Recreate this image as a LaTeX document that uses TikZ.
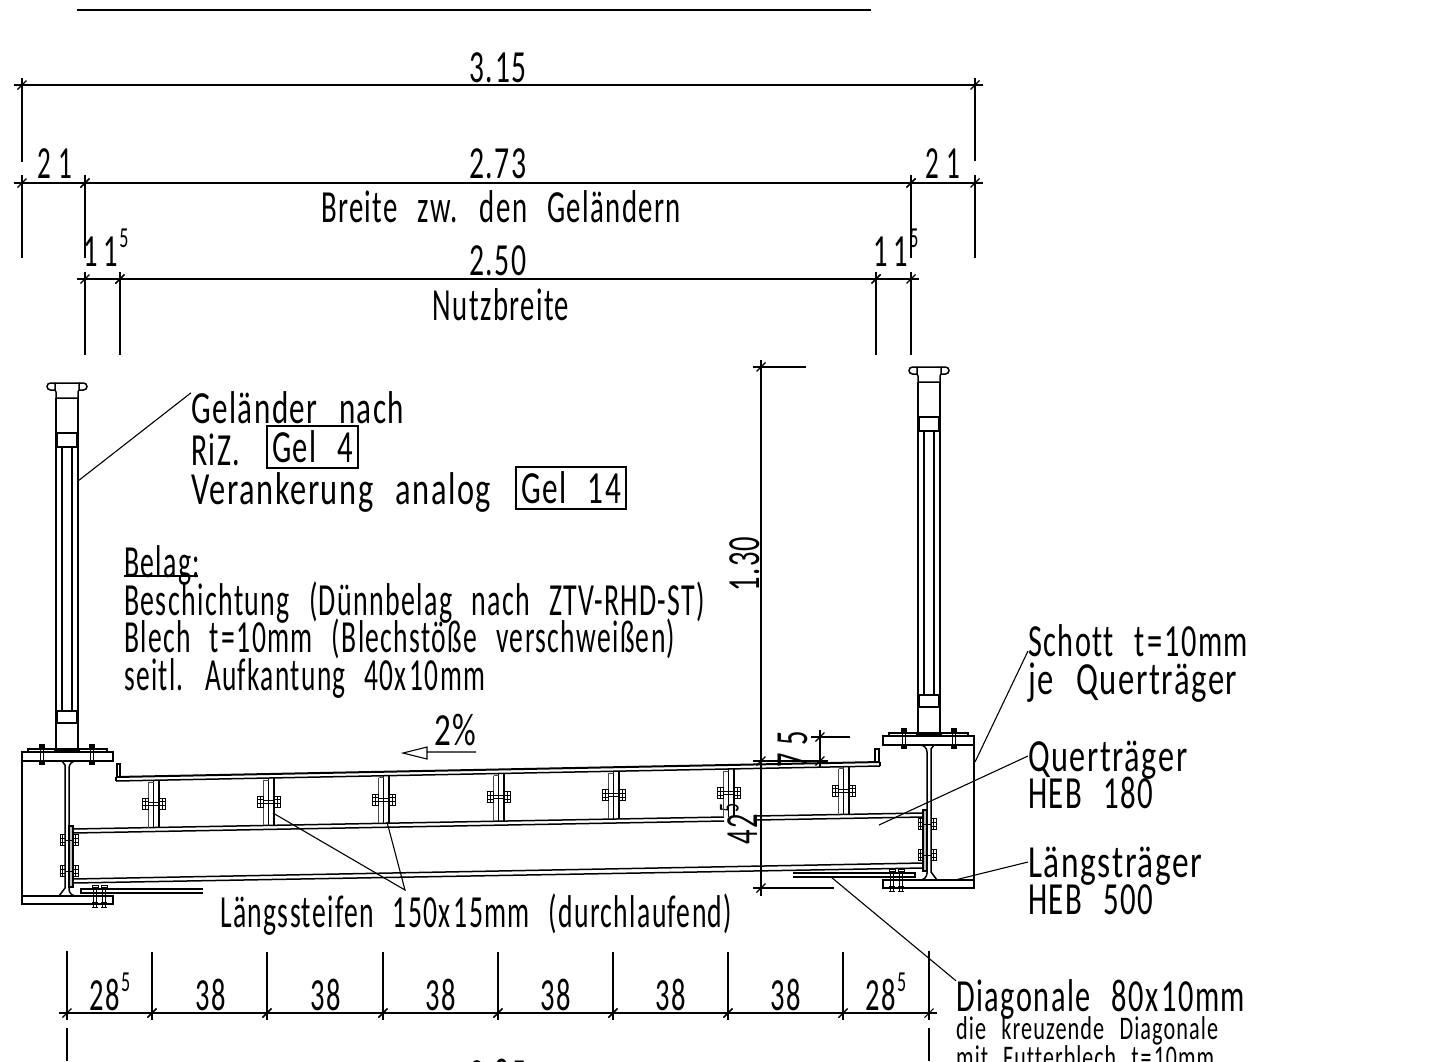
\documentclass[tikz,border=0pt]{standalone}
\usepackage{graphicx}
\usepackage{fontspec}
\setmainfont{Carlito}[FakeStretch=0.62,LetterSpace=3,WordSpace=2.5,Ligatures=NoCommon]
\usetikzlibrary{positioning}
\usetikzlibrary{calc}
\newcommand{\hoch}[1]{\raisebox{.4em}{\fontsize{29}{29}\selectfont\kern1pt #1}}
\newcommand{\bw}[2]{\resizebox{#1pt}{\height}{#2}}
\tikzset{
  dimline/.style={line width=1.1pt},
  leader/.style={line width=1.1pt},
  steel/.style={line width=1.5pt},
  thinsteel/.style={line width=1pt,black!70},
  txt/.style={inner sep=0pt,text height=30pt,text depth=0pt,font=\fontsize{46}{46}\selectfont},
  small txt/.style={inner sep=0pt,text height=21pt,text depth=0pt,font=\fontsize{33}{33}\selectfont},
  gel box/.style={txt,draw,line width=1.4pt,minimum height=42pt},
  pics/tick/.style={code={\draw[dimline] (-4.5,4.5) -- (4.5,-4.5);}},
  pics/nut/.style={code={
    \draw[line width=.8pt] (-3,-5.5) rectangle (3,5.5) (-3,-2) -- (3,-2) (-3,2) -- (3,2) (0,-5.5) -- (0,5.5);}},
  pics/hauptbolt/.style={code={
    \fill (-3,-5) rectangle (3,-1);
    \draw[line width=.9pt] (-1.5,-1) -- (-1.5,12) (1.5,-1) -- (1.5,12);
    \fill (-3,12) rectangle (3,16);}},
  pics/diagbolt/.style={code={
    \draw[line width=.9pt] (-3,-2) rectangle (3,0);
    \draw[line width=.9pt] (-1.5,0) -- (-1.5,20) (1.5,0) -- (1.5,20) (-3,20) -- (3,20);
    \draw[line width=.9pt] (-3,15) -- (3,15);}},
  pics/haupt/.style={code={
    % Pfosten
    \draw[steel] (-11,398) -- (-11,749) (11,398) -- (11,749);
    \draw[steel] (-12,383) -- (12,383) -- (12,390) -- (11,392) -- (11,398) -- (-11,398) -- (-11,392) -- (-12,390) -- cycle;
    \draw[steel,rounded corners=3.5pt] (-12,383) -- (-20,383) -- (-20,390) -- (-12,390);
    \draw[steel,rounded corners=3.5pt] (12,383) -- (20,383) -- (20,390) -- (12,390);
    \draw[line width=2.2pt] (-10,433) rectangle (10,447);
    \draw[line width=2.2pt] (-10,711) rectangle (10,723);
    \draw[line width=1.2pt] (-5,447) -- (-5,711) (5,447) -- (5,711);
    % Fussplatte und Flansche
    \draw[steel] (-39,749) rectangle (40,752);
    \draw[line width=2pt] (-13,751) -- (13,751);
    \draw[steel] (-45,752) rectangle (46,761);
    \draw[steel] (-45,896) rectangle (46,904);
    \draw[steel] (-45,761) -- (-45,896);
    \draw[steel] (-10,761) -- (-5,761) -- (-2,765) -- (-2,888) -- (-8,896) -- (-10,896);
    \draw[steel,rounded corners=7pt] (10,761) -- (2,761) -- (2,896) -- (10,896);
    \pic at (-25,749) {hauptbolt};
    \pic at (25,749) {hauptbolt};
    % Anschlussblech
    \draw[steel,fill=black!25] (2,826) rectangle (6,887);
    \foreach \yy in {840,871}{
      \pic[xscale=.8] at (-4.5,\yy) {nut};
      \pic[xscale=.8] at (8.5,\yy) {nut};
      \draw[line width=.8pt] (-2,\yy) -- (6,\yy);
    }
    % Diagonale
    \draw[steel] (14,894) -- (14,889) -- (136,889) (14,893) -- (136,893);
    \foreach \xx in {28,37}{\pic at (\xx,887) {diagbolt};}
  }}
}
\begin{document}
\begin{tikzpicture}[x=1pt,y=-1pt]
    \useasboundingbox (0,0) rectangle (1440,1061);
    \coordinate (topa) at (77,10);
    \coordinate (topb) at (871,10);
    \draw[line width=1.8pt] (topa) -- (topb);

    % Masslinien
    \foreach \xa/\xb/\yy/\n in {22/975/85/a,22/85/183/b,85/911/183/c,911/975/183/d,85/120/279/e,120/876/279/f,876/911/279/g,
        67/152/1013/h,152/267/1013/i,267/383/1013/j,383/498/1013/k,498/613/1013/l,613/728/1013/m,728/843/1013/n,843/929/1013/o}{
      \coordinate (\n l) at (\xa,\yy);
      \coordinate (\n r) at (\xb,\yy);
      \draw[dimline,shorten <=-8pt,shorten >=-8pt] (\n l) -- (\n r);
      \pic at (\n l) {tick};
      \pic at (\n r) {tick};
    }
    \foreach \xx/\ya/\yb in {22/78/162,975/78/161,22/175/258,85/175/258,911/175/258,975/175/258,
        85/272/355,120/272/355,876/272/355,911/272/355,
        67/951/1020,152/952/1020,267/952/1020,383/952/1020,498/952/1020,613/952/1020,728/952/1020,843/952/1020,929/951/1020,
        67/1028/1061,929/1028/1061}{
      \draw[dimline] (\xx,\ya) -- (\xx,\yb);
    }

    \node[txt] (m315) at (498,67) {\bw{57}{3.\kern2pt 15}};
    \node[txt] (m273) at (498,163) {\bw{57}{2.73}};
    \node[txt] (m21l) at (55,163) {\bw{35}{2\kern8pt 1}};
    \node[txt] (m21r) at (943,163) {\bw{35}{2\kern8pt 1}};
    \node[txt] (breite) at (501,207) {\bw{360}{Breite zw. den Geländern}};
    \node[txt] (m115l) at (106,251) {1\kern6pt 1\hoch{5}};
    \node[txt] (m250) at (498,260) {\bw{57}{2.50}};
    \node[txt] (m115r) at (896,251) {1\kern6pt 1\hoch{5}};
    \node[txt] (nutz) at (501,305) {\bw{136}{Nutzbreite}};
    \node[txt] (m285l) at (110,995) {28\hoch{5}};
    \foreach \xx/\n in {211/a,326/b,441/c,556/d,671/e,786/f}{
      \node[txt] (m38\n) at (\xx,995) {38};
    }
    \node[txt] (m285r) at (886,995) {28\hoch{5}};
    \node[txt] (m285) at (498,1075) {\bw{57}{2.85}};

    % Hoehenmasse
    \coordinate (ha) at (761,367);
    \coordinate (hb) at (761,761);
    \coordinate (hc) at (761,888);
    \coordinate (ka) at (820,737);
    \coordinate (kb) at (820,761);
    \draw[dimline] (761,360) -- (761,896);
    \draw[dimline] (753,367) -- (806,367) (753,761) -- (812,761) (753,888) -- (834,888);
    \draw[dimline] (820,730) -- (820,768) (811,737) -- (850,737) (806,761) -- (828,761);
    \foreach \n in {ha,hb,hc,ka,kb}{\pic at (\n) {tick};}
    \node[txt,rotate=90] (m130) at (744,564) {1.30};
    \node[txt,rotate=90] (m75) at (792,749) {7\,5};
    \node[txt,rotate=90] (m425) at (742,824) {42\hoch{5}};

    % Texte
    \node[txt,anchor=west] (gelaender) at (191,408) {\bw{213}{Geländer nach}};
    \node[txt,anchor=west] (riz) at (191,450) {\bw{49}{RiZ.}};
    \node[gel box,minimum width=91pt] (gel4) at (312.5,447) {\bw{81}{Gel 4}};
    \node[txt,anchor=west] (veran) at (191,489) {\bw{300}{Verankerung analog}};
    \node[gel box,minimum width=110pt] (gel14) at (571,488) {\bw{100}{Gel 14}};
    \node[txt,anchor=west] (belag) at (124,562) {\bw{76}{Belag:}};
    \draw[line width=1.4pt] (124,576) -- (198,576);
    \node[txt,anchor=west] (besch) at (124,600) {\bw{581}{Beschichtung (Dünnbelag nach ZTV-RHD-ST)}};
    \node[txt,anchor=west] (blech) at (124,637) {\bw{551}{Blech t\kern2pt=\kern2pt 10mm (Blechstöße verschweißen)}};
    \node[txt,anchor=west] (seitl) at (124,675) {\bw{361}{seitl. Aufkantung 40x\kern3pt 10mm}};
    \node[txt] (gefaelle) at (455,730) {\bw{42}{2\%}};
    \coordinate (gefa) at (476,752);
    \coordinate (gefb) at (427,752);
    \draw[dimline] (gefa) -- (gefb) -- (427,747) -- (403,753) -- (427,759) -- (gefb);
    \node[txt,anchor=west] (schott) at (1028,641) {\bw{220}{Schott t\kern2pt=\kern2pt 10mm}};
    \node[txt,anchor=west] (je) at (1028,679) {\bw{209}{je Querträger}};
    \node[txt,anchor=west] (quer) at (1028,756) {\bw{159}{Querträger}};
    \node[txt,anchor=west] (heb180) at (1028,793) {\bw{125}{HEB 180}};
    \node[txt,anchor=west] (laengs) at (1028,862) {\bw{174}{Längsträger}};
    \node[txt,anchor=west] (heb500) at (1028,899) {\bw{125}{HEB 500}};
    \node[txt,anchor=west] (diag) at (956,996) {\bw{289}{Diagonale 80x\kern3pt 10mm}};
    \node[small txt,anchor=west] (kreuz) at (956,1029) {\bw{262}{die kreuzende Diagonale}};
    \node[small txt,anchor=west] (futter) at (956,1058) {\bw{258}{mit Futterblech t\kern2pt=\kern2pt 10mm}};
    \node[txt,anchor=west] (steifen) at (220,912) {\bw{512}{Längssteifen 150x\kern3pt 15mm (durchlaufend)}};

    % Haupttraeger
    \pic at (67,0) {haupt};
    \pic[xscale=-1] at (929,-16) {haupt};

    % Belag
    \coordinate (bla) at (116,777);
    \coordinate (blb) at (880,762);
    \draw[line width=2pt] (bla) -- (blb);
    \draw[steel] (116,781) -- (880,766);
    \draw[steel] (116,777) -- (116,781) (880,762) -- (880,766);
    \draw[steel] (117,777) -- (117,764) -- (120,764) -- (120,777);
    \draw[steel] (875,762) -- (875,749) -- (879,749) -- (879,762);

    % Quertraeger
    \draw[steel] (73,829) -- (724,817) (73,833) -- (724,821);
    \draw[steel] (756,816) -- (923,813) (756,820) -- (923,817);
    \draw[steel] (73,879) -- (923,863) (73,883) -- (923,868);

    % Steifen
    \foreach \i in {0,...,6}{
      \pgfmathsetmacro{\xs}{153.7+115*\i}
      \pgfmathsetmacro{\yd}{781-(\xs-116)*0.0196}
      \pgfmathsetmacro{\yf}{829-(\xs-73)*0.0185}
      \pgfmathsetmacro{\ym}{(\yd+\yf)/2}
      \draw[steel] (\xs,\yd) -- (\xs,\yf) (\xs+5.3,\yd) -- (\xs+5.3,\yf);
      \draw[thinsteel] (\xs-5,\yd+2) -- (\xs-5,\yf) (\xs-5,\yd+2) -- (\xs,\yd+2);
      \pic at (\xs-8,\ym) {nut};
      \pic at (\xs+9,\ym) {nut};
      \draw[line width=.8pt] (\xs-5,\ym-1.5) -- (\xs+6,\ym-1.5) (\xs-5,\ym+1.5) -- (\xs+6,\ym+1.5);
    }

    % Hinweislinien
    \coordinate (pfosten) at (78,481);
    \coordinate (schotte) at (975,762);
    \coordinate (querst) at (879,825);
    \coordinate (laengst) at (955,880);
    \coordinate (diagst) at (831,877);
    \coordinate (steifa) at (273,813);
    \coordinate (steifb) at (387,822);
    \coordinate (steifc) at (405,890);
    \draw[leader] (pfosten) -- (gelaender.north west);
    \draw[leader] (schotte) -- (1028,651);
    \draw[leader] (querst) -- (quer.west);
    \draw[leader] (laengst) -- (laengs.west);
    \draw[leader] (diagst) -- (diag.north west);
    \draw[leader] (steifa) -- (steifc) -- (steifb);
\end{tikzpicture}
\end{document}
